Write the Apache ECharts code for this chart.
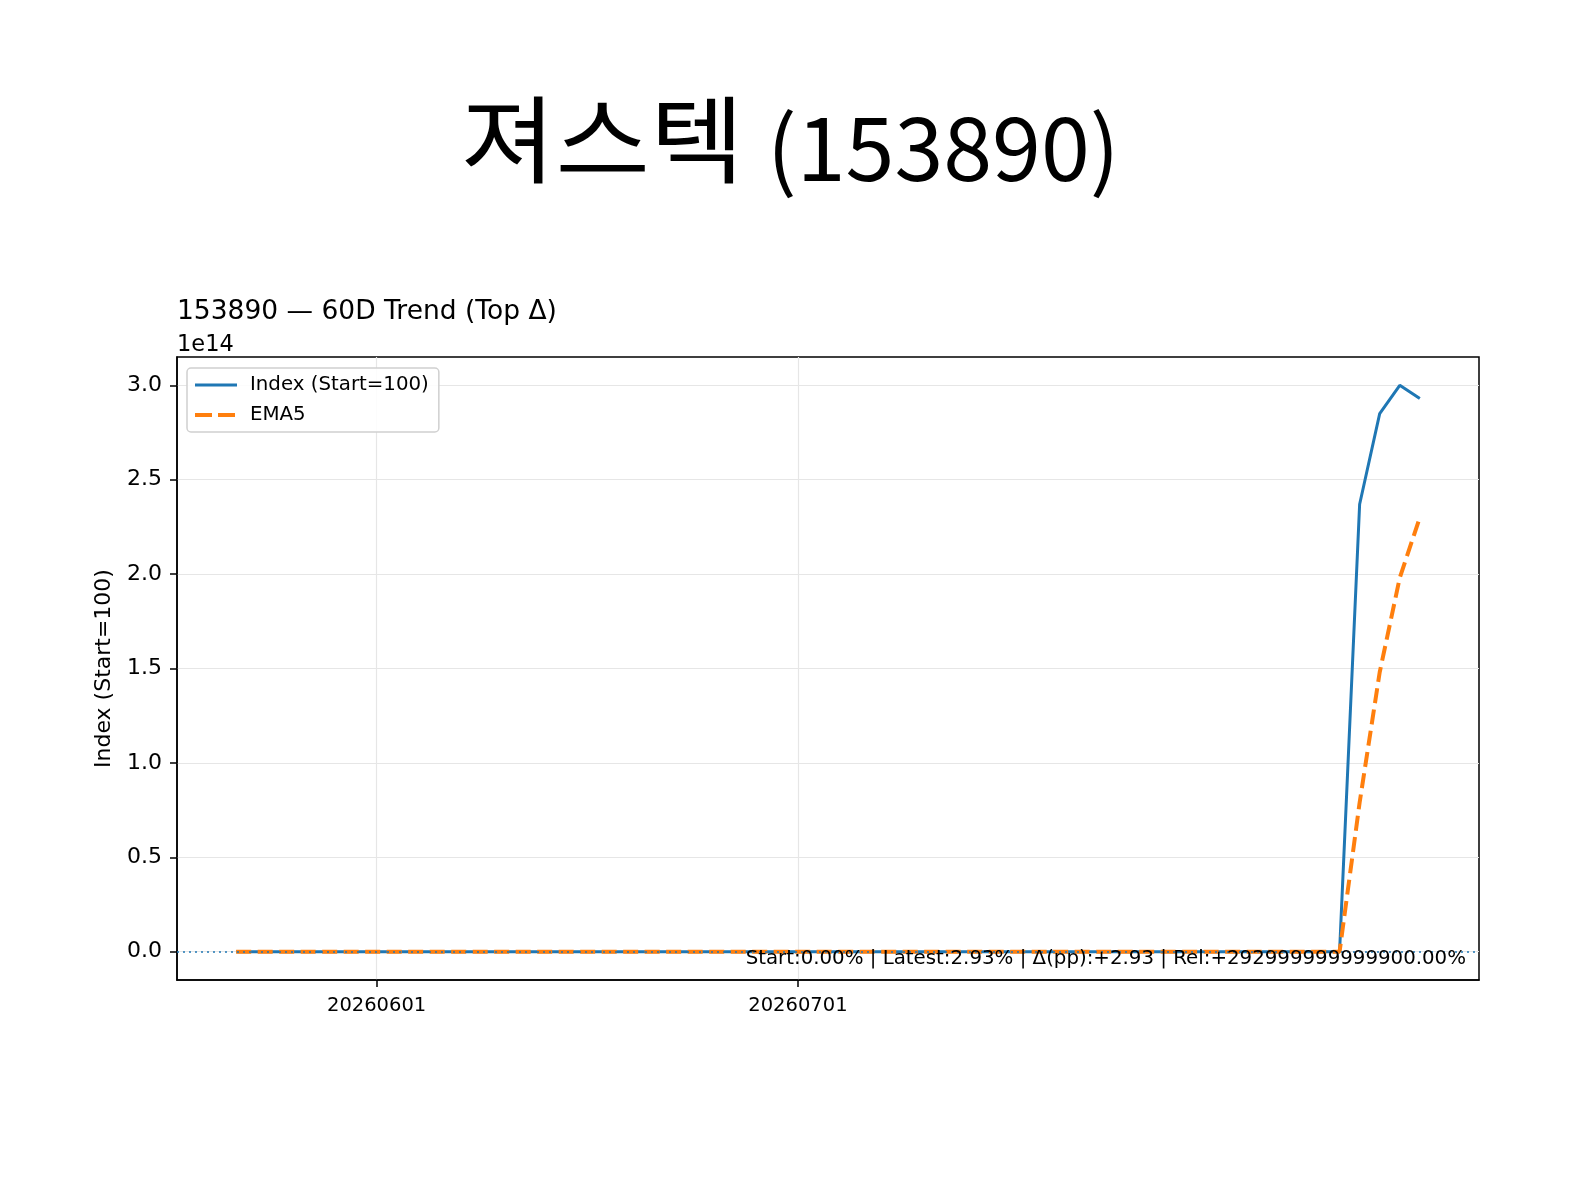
<!DOCTYPE html>
<html>
<head>
<meta charset="utf-8">
<script src="https://cdn.jsdelivr.net/npm/echarts@6/dist/echarts.min.js"></script>
<style>
  html, body { margin: 0; padding: 0; background: #fff; }
  #chart { width: 1573px; height: 1179px; }
</style>
</head>
<body>
<div id="chart"></div>
<script>
// 60 trading days (x axis is the day index)
const dates = [
    '20260520', '20260521', '20260522', '20260526', '20260527', '20260528', '20260529',
    '20260601', '20260602', '20260604', '20260605', '20260608', '20260609', '20260610',
    '20260611', '20260612', '20260615', '20260616', '20260617', '20260618', '20260619',
    '20260622', '20260623', '20260624', '20260625', '20260626', '20260629', '20260630',
    '20260701', '20260702', '20260703', '20260706', '20260707', '20260708', '20260709',
    '20260710', '20260713', '20260714', '20260715', '20260716', '20260717', '20260720',
    '20260721', '20260722', '20260723', '20260724', '20260727', '20260728', '20260729',
    '20260730', '20260731', '20260803', '20260804', '20260805', '20260806', '20260807',
    '20260810', '20260811', '20260812', '20260813'
]
// Index (Start=100)
const indexValues = [
    100, 100, 100, 100, 100, 100, 100, 100, 100, 100, 100, 100, 100, 100, 100,
    100, 100, 100, 100, 100, 100, 100, 100, 100, 100, 100, 100, 100, 100, 100,
    100, 100, 100, 100, 100, 100, 100, 100, 100, 100, 100, 100, 100, 100, 100,
    100, 100, 100, 100, 100, 100, 100, 100, 100, 100, 100,
    2.37e14, 2.85e14, 3.00e14, 2.93e14
]
// EMA5
const emaValues = [
    100, 100, 100, 100, 100, 100, 100, 100, 100, 100, 100, 100, 100, 100, 100,
    100, 100, 100, 100, 100, 100, 100, 100, 100, 100, 100, 100, 100, 100, 100,
    100, 100, 100, 100, 100, 100, 100, 100, 100, 100, 100, 100, 100, 100, 100,
    100, 100, 100, 100, 100, 100, 100, 100, 100, 100, 100,
    0.79e14, 1.48e14, 1.98e14, 2.30e14
]
const yTicks = [0, 0.5e14, 1.0e14, 1.5e14, 2.0e14, 2.5e14, 3.0e14]
const xTicks = dates.map((d, i) => d.endsWith('01') ? i : -1).filter(i => i >= 0)

const titleName = '져스텍'
const titleCode = '(153890)'
const subTitle = '153890 — 60D Trend (Top Δ)'
const noteText = 'Start:0.00% | Latest:2.93% | Δ(pp):+2.93 | Rel:+292999999999900.00%'

const FONT = 'DejaVu Sans'
const BLUE = '#1f77b4'
const ORANGE = '#ff7f0e'
const myChart = echarts.init(document.getElementById('chart'), null, {renderer: 'canvas'})

myChart.setOption({
    animation: false,
    backgroundColor: '#fff',
    textStyle: {fontFamily: FONT, color: '#000'},
    grid: {
        left: 177,
        right: 94,
        top: 357,
        bottom: 199,
        show: true,
        borderColor: '#000',
        borderWidth: 1.5,
    },
    legend: {
        orient: 'vertical',
        left: 187,
        top: 368,
        padding: [7, 10, 7, 6],
        itemGap: 10,
        itemWidth: 42,
        itemHeight: 19,
        backgroundColor: 'rgba(255,255,255,0.85)',
        borderColor: '#d0d0d0',
        borderWidth: 1.5,
        borderRadius: 4,
        textStyle: {fontFamily: FONT, fontSize: 19.8, color: '#000', padding: [0, 0, 0, 8]},
        data: [
            {
                name: 'Index (Start=100)',
                itemStyle: {opacity: 0},
                lineStyle: {color: BLUE, width: 3, type: 'solid'},
            },
            {
                name: 'EMA5',
                itemStyle: {opacity: 0},
                lineStyle: {color: ORANGE, width: 4, type: [17, 6]},
            },
        ],
    },
    xAxis: {
        type: 'value',
        min: -2.95,
        max: 61.95,
        axisLine: {show: true, onZero: false, lineStyle: {color: '#000', width: 1.5}},
        axisTick: {show: true, length: 7, lineStyle: {color: '#000', width: 1.5}, customValues: xTicks},
        axisLabel: {
            customValues: xTicks,
            fontFamily: FONT,
            fontSize: 19.5,
            color: '#000',
            margin: 16,
            formatter: v => dates[Math.round(v)] || '',
        },
        splitLine: {show: true, lineStyle: {color: '#e6e6e6', width: 1.2}},
    },
    yAxis: {
        type: 'value',
        min: -0.15e14,
        max: 3.15e14,
        name: 'Index (Start=100)',
        nameLocation: 'middle',
        nameGap: 62,
        nameTextStyle: {fontFamily: FONT, fontSize: 22, color: '#000'},
        axisLine: {show: true, onZero: false, lineStyle: {color: '#000', width: 1.5}},
        axisTick: {show: true, length: 7, lineStyle: {color: '#000', width: 1.5}, customValues: yTicks},
        axisLabel: {
            customValues: yTicks,
            fontFamily: FONT,
            fontSize: 22,
            color: '#000',
            margin: 15,
            formatter: v => (v / 1e14).toFixed(1),
        },
        splitLine: {show: true, lineStyle: {color: '#e6e6e6', width: 1.2}},
    },
    graphic: [
        {
            // hangul part is a bit wider in the original font
            type: 'text',
            x: 461,
            y: 92,
            scaleX: 1.08,
            style: {text: titleName, font: '95px "Noto Sans CJK KR"', fill: '#000', textAlign: 'left', textVerticalAlign: 'top'},
        },
        {
            type: 'text',
            x: 767,
            y: 104,
            style: {text: titleCode, font: '88px "Noto Sans CJK KR"', fill: '#000', textAlign: 'left', textVerticalAlign: 'top'},
        },
        {
            type: 'text',
            left: 177,
            top: 299,
            style: {text: subTitle, font: '26.5px "DejaVu Sans"', fill: '#000'},
        },
        {
            type: 'text',
            left: 177,
            top: 334,
            style: {text: '1e14', font: '22.5px "DejaVu Sans"', fill: '#000'},
        },
        {
            type: 'text',
            right: 107,
            top: 949,
            z: 100,
            style: {text: noteText, font: '19.8px "DejaVu Sans"', fill: '#000'},
        },
    ],
    series: [
        {
            name: 'Index (Start=100)',
            type: 'line',
            symbol: 'none',
            data: indexValues.map((v, i) => [i, v]),
            lineStyle: {color: BLUE, width: 3},
            itemStyle: {color: BLUE},
            z: 2,
        },
        {
            name: 'EMA5',
            type: 'line',
            symbol: 'none',
            data: emaValues.map((v, i) => [i, v]),
            lineStyle: {color: ORANGE, width: 4, type: [15, 6.5]},
            itemStyle: {color: ORANGE},
            z: 3,
            markLine: {
                silent: true,
                symbol: 'none',
                label: {show: false},
                lineStyle: {color: BLUE, width: 1.5, type: [2, 4]},
                data: [{yAxis: 0}],
            },
        },
    ],
})
window.addEventListener('resize', myChart.resize)
</script>
</body>
</html>
